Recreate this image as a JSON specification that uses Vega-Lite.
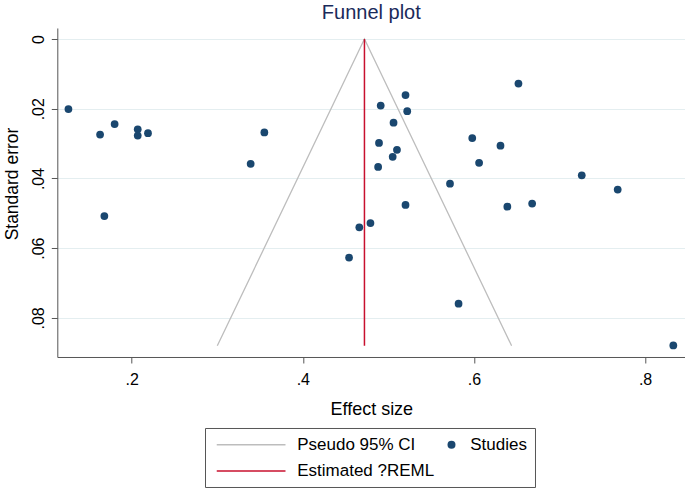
{
  "$schema": "https://vega.github.io/schema/vega-lite/v6.json",
  "width": 628,
  "height": 329,
  "autosize": "none",
  "padding": {"left": 57.3, "top": 28, "right": 0, "bottom": 131.7},
  "background": "white",
  "title": {"text": "Funnel plot", "font": "Liberation Sans", "fontSize": 20, "fontWeight": "normal", "color": "#1a2a5a", "anchor": "middle", "baseline": "alphabetic", "offset": 10.5, "dy": 22, "frame": "group"},
  "config": {"view": {"stroke": null}},
  "data": {"values": [
    {"series": "Pseudo 95% CI", "es": 0.300, "se": 0.088},
    {"series": "Pseudo 95% CI", "es": 0.472, "se": 0.0},
    {"series": "Pseudo 95% CI", "es": 0.644, "se": 0.088},
    {"series": "Studies", "es": 0.126, "se": 0.0201},
    {"series": "Studies", "es": 0.652, "se": 0.0128},
    {"series": "Studies", "es": 0.520, "se": 0.0161},
    {"series": "Studies", "es": 0.491, "se": 0.0191},
    {"series": "Studies", "es": 0.522, "se": 0.0207},
    {"series": "Studies", "es": 0.163, "se": 0.0274},
    {"series": "Studies", "es": 0.180, "se": 0.0244},
    {"series": "Studies", "es": 0.207, "se": 0.0259},
    {"series": "Studies", "es": 0.207, "se": 0.0277},
    {"series": "Studies", "es": 0.219, "se": 0.0270},
    {"series": "Studies", "es": 0.355, "se": 0.0268},
    {"series": "Studies", "es": 0.339, "se": 0.0358},
    {"series": "Studies", "es": 0.506, "se": 0.0240},
    {"series": "Studies", "es": 0.489, "se": 0.0298},
    {"series": "Studies", "es": 0.510, "se": 0.0318},
    {"series": "Studies", "es": 0.505, "se": 0.0338},
    {"series": "Studies", "es": 0.488, "se": 0.0367},
    {"series": "Studies", "es": 0.598, "se": 0.0284},
    {"series": "Studies", "es": 0.631, "se": 0.0306},
    {"series": "Studies", "es": 0.606, "se": 0.0355},
    {"series": "Studies", "es": 0.726, "se": 0.0391},
    {"series": "Studies", "es": 0.768, "se": 0.0432},
    {"series": "Studies", "es": 0.572, "se": 0.0415},
    {"series": "Studies", "es": 0.520, "se": 0.0476},
    {"series": "Studies", "es": 0.639, "se": 0.0481},
    {"series": "Studies", "es": 0.668, "se": 0.0472},
    {"series": "Studies", "es": 0.168, "se": 0.0508},
    {"series": "Studies", "es": 0.479, "se": 0.0528},
    {"series": "Studies", "es": 0.466, "se": 0.0540},
    {"series": "Studies", "es": 0.454, "se": 0.0627},
    {"series": "Studies", "es": 0.582, "se": 0.0759},
    {"series": "Studies", "es": 0.833, "se": 0.0879},
    {"series": "Estimated ?REML", "es": 0.472, "se": 0.0},
    {"series": "Estimated ?REML", "es": 0.472, "se": 0.088}
  ]},
  "encoding": {
    "x": {
      "field": "es", "type": "quantitative",
      "scale": {"domain": [0.113, 0.847], "nice": false, "zero": false},
      "axis": {
        "values": [0.2, 0.4, 0.6, 0.8],
        "labelExpr": "replace(format(datum.value, '.1f'), '0.', '.')",
        "title": "Effect size", "titleFont": "Liberation Sans", "titleFontSize": 18, "titleFontWeight": "normal", "titleColor": "black",
        "titleBaseline": "alphabetic", "titleY": 57.4,
        "labelFont": "Liberation Sans", "labelFontSize": 16, "labelColor": "black", "labelBaseline": "alphabetic", "labelPadding": 21.7, "labelFlush": false,
        "tickSize": 6, "tickColor": "#555555", "domainColor": "#555555", "grid": false
      }
    },
    "y": {
      "field": "se", "type": "quantitative",
      "scale": {"domain": [-0.00315, 0.0912], "reverse": true, "nice": false, "zero": false},
      "axis": {
        "values": [0, 0.02, 0.04, 0.06, 0.08],
        "labelExpr": "datum.value == 0 ? '0' : replace(format(datum.value, '.2f'), '0.', '.')",
        "labelAngle": 270, "labelAlign": "center", "labelBaseline": "alphabetic", "labelPadding": 8,
        "labelFont": "Liberation Sans", "labelFontSize": 16, "labelColor": "black", "labelFlush": false,
        "title": "Standard error", "titleFont": "Liberation Sans", "titleFontSize": 17.5, "titleFontWeight": "normal", "titleColor": "black",
        "titleAngle": 270, "titleAlign": "center", "titleBaseline": "alphabetic", "titleX": -40.3, "titleY": 155.5,
        "tickSize": 6, "tickColor": "#555555", "domainColor": "#555555",
        "grid": true, "gridColor": "#e4eef0", "gridWidth": 1.2
      }
    },
    "color": {
      "field": "series", "type": "nominal",
      "scale": {"domain": ["Pseudo 95% CI", "Estimated ?REML", "Studies"], "range": ["#bdbdbd", "#c8102e", "#1a476f"]},
      "legend": {
        "title": null, "orient": "none", "legendX": 147.7, "legendY": 400, "columns": 2,
        "columnPadding": 8, "rowPadding": 8.5, "padding": 8, "strokeColor": "#555555", "fillColor": "white",
        "labelFont": "Liberation Sans", "labelFontSize": 17, "labelColor": "black", "labelOffset": 10.25, "labelLimit": 300,
        "symbolSize": 64, "symbolStrokeWidth": 1.5,
        "encode": {
          "symbols": {"update": {
            "shape": {"signal": "datum.value === 'Studies' ? 'circle' : 'M-1.19,0H16'"},
            "fill": {"scale": "color", "field": "value"},
            "stroke": {"scale": "color", "field": "value"},
            "strokeWidth": {"signal": "datum.value === 'Studies' ? 0 : 1.5"},
            "opacity": {"value": 1}
          }},
          "labels": {"update": {
            "dx": {"signal": "datum.value === 'Studies' ? 0 : 57"}
          }}
        }
      }
    }
  },
  "layer": [
    {"transform": [{"filter": "datum.series === 'Pseudo 95% CI'"}], "mark": {"type": "line", "strokeWidth": 1.3}},
    {"transform": [{"filter": "datum.series === 'Studies'"}], "mark": {"type": "point", "filled": true, "size": 60, "opacity": 1}},
    {"transform": [{"filter": "datum.series === 'Estimated ?REML'"}], "mark": {"type": "line", "strokeWidth": 1.5}, "encoding": {"order": {"field": "se", "type": "quantitative"}}}
  ]
}
